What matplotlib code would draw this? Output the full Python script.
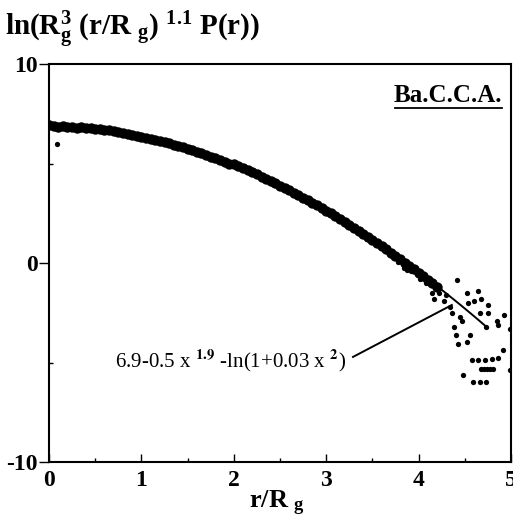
import numpy as np
import matplotlib
matplotlib.use("Agg")
import matplotlib.pyplot as plt

plt.rcParams['font.family'] = ['Liberation Serif', 'DejaVu Serif']
plt.rcParams['font.weight'] = 'bold'
plt.rcParams['mathtext.fontset'] = 'custom'
plt.rcParams['mathtext.rm'] = 'Liberation Serif:bold'
plt.rcParams['mathtext.it'] = 'Liberation Serif:italic:bold'
plt.rcParams['axes.unicode_minus'] = False

# dense band of P(r) points
band_x = [0.00, 0.05, 0.10, 0.15, 0.20, 0.25, 0.30, 0.35, 0.40, 0.45,
          0.50, 0.55, 0.60, 0.65, 0.70, 0.75, 0.80, 0.85, 0.90, 0.95,
          1.00, 1.05, 1.10, 1.15, 1.20, 1.25, 1.30, 1.35, 1.40, 1.45,
          1.50, 1.55, 1.60, 1.65, 1.70, 1.75, 1.80, 1.85, 1.90, 1.95,
          2.00, 2.05, 2.10, 2.15, 2.20, 2.25, 2.30, 2.35, 2.40, 2.45,
          2.50, 2.55, 2.60, 2.65, 2.70, 2.75, 2.80, 2.85, 2.90, 2.95,
          3.00, 3.05, 3.10, 3.15, 3.20, 3.25, 3.30, 3.35, 3.40, 3.45,
          3.50, 3.55, 3.60, 3.65, 3.70, 3.75, 3.80, 3.85, 3.90, 3.95,
          4.00, 4.05, 4.10, 4.15, 4.20]
band_y = [6.95, 6.90, 6.85, 6.90, 6.85, 6.85, 6.80, 6.85, 6.80, 6.80,
          6.75, 6.75, 6.70, 6.70, 6.65, 6.60, 6.55, 6.50, 6.45, 6.40,
          6.35, 6.30, 6.25, 6.20, 6.15, 6.10, 6.05, 5.95, 5.90, 5.85,
          5.75, 5.70, 5.60, 5.55, 5.45, 5.35, 5.30, 5.20, 5.10, 5.00,
          4.95, 4.85, 4.75, 4.65, 4.55, 4.45, 4.30, 4.20, 4.10, 4.00,
          3.85, 3.75, 3.65, 3.50, 3.40, 3.25, 3.15, 3.00, 2.90, 2.75,
          2.60, 2.50, 2.35, 2.20, 2.05, 1.90, 1.75, 1.60, 1.45, 1.30,
          1.15, 1.00, 0.85, 0.70, 0.50, 0.35, 0.20, 0.00, -0.15, -0.30,
          -0.50, -0.65, -0.85, -1.00, -1.20]

# scattered points (start and large-r tail)
pts_x = [0.09, 3.78, 3.84, 3.87, 3.92, 4.02, 4.08,
         4.42, 4.14, 4.22, 4.52, 4.64, 4.17, 4.53, 4.60, 4.67, 4.27, 4.75,
         4.36, 4.45, 4.66, 4.75, 4.85, 4.92, 4.86, 4.38, 4.47, 4.73, 4.99,
         4.40, 4.56, 4.43, 4.52, 4.91, 4.58, 4.64, 4.72, 4.79, 4.86,
         4.68, 4.71, 4.74, 4.77, 4.80, 4.48, 4.59, 4.66, 4.73, 4.99, 4.30, 4.34]
pts_y = [5.96, 0.05, -0.25, -0.35, -0.40, -0.80, -1.00,
         -0.86, -1.5, -1.5, -1.5, -1.4, -1.8, -2.0, -1.9, -1.8, -1.9, -2.1,
         -2.5, -2.7, -2.5, -2.5, -2.9, -2.6, -3.1, -3.2, -2.9, -3.2, -3.3,
         -3.6, -3.6, -4.05, -3.95, -4.35, -4.85, -4.85, -4.85, -4.8, -4.75,
         -5.35, -5.35, -5.35, -5.35, -5.35, -5.65, -6.0, -6.0, -6.0, -5.4, -1.6, -2.2]

fit_x = np.linspace(0, 4.75, 200)
fit_y = 6.9 - 0.5 * fit_x ** 1.9 - np.log(1 + 0.03 * fit_x ** 2)

fig = plt.figure(figsize=(5.13, 5.28), dpi=100)
ax = fig.add_axes([49 / 513, 1 - 462 / 528, 462 / 513, 398 / 528])

ax.plot(band_x, band_y, 'o', color='k', ms=7.5, mew=0)
ax.plot(pts_x, pts_y, 'o', color='k', ms=3.8, mew=0)
ax.plot(fit_x, fit_y, '-', color='k', lw=1.4)

# pointer from formula to curve
ax.plot([3.29, 4.36], [-4.72, -2.11], '-', color='k', lw=1.4)
ax.text(3.22, -4.9, r'6.9-0.5 x $^{1.9}$ -ln(1+0.03 x $^{2}$)', ha='right', va='center',
        fontsize=15, fontweight='normal', math_fontfamily='stix')

ax.text(4.90, 8.4, 'Ba.C.C.A.', ha='right', va='center', fontsize=18)
ax.plot([3.74, 4.90], [7.8, 7.8], '-', color='k', lw=1.3)

ax.set_xlim(0, 5)
ax.set_ylim(-10, 10)
ax.set_xticks([0, 1, 2, 3, 4, 5])
ax.set_xticklabels(['0', '1', '2', '3', '4', '5'])
ax.set_yticks([-10, 0, 10])
ax.set_xticks(np.arange(0.5, 5, 1.0), minor=True)
ax.set_yticks([-5, 5], minor=True)
ax.tick_params(axis='x', which='major', direction='in', length=6, width=1, labelsize=17, pad=6)
ax.tick_params(axis='x', which='minor', direction='in', length=3, width=1)
ax.tick_params(axis='y', which='major', direction='out', length=7, width=1, labelsize=17, pad=1)
ax.tick_params(axis='y', which='minor', direction='in', length=3, width=1)
for s in ax.spines.values():
    s.set_linewidth(1.5)

fig.text(277 / 513, 1 - 503 / 528, r'r/R $_{\mathrm{g}}$', ha='center', va='center', fontsize=19)
fig.text(5 / 513, 1 - 30 / 528, r'ln(R$_{\mathrm{g}}^{3}$ (r/R $_{\mathrm{g}}$) $^{1.1}$ P(r))',
         ha='left', va='center', fontsize=21)

fig.savefig('out.png', dpi=100)
